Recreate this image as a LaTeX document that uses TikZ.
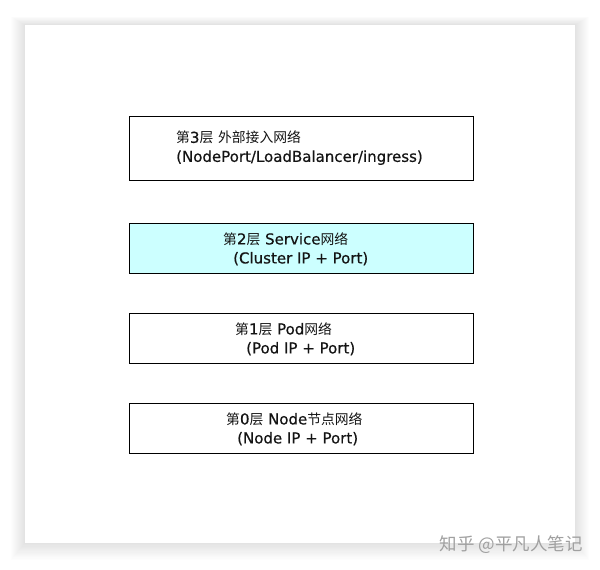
\documentclass[tikz,border=0pt]{standalone}
\usepackage{fontspec}
\setmainfont{DejaVu Sans}[FakeBold=0.5]
\newfontfamily\cjk{Noto Sans CJK SC}[Scale=0.92]
\newfontfamily\wmfont{Noto Sans CJK SC}
\definecolor{svcfill}{RGB}{204,255,255}
\definecolor{txt}{RGB}{20,20,20}
\definecolor{wm}{RGB}{160,160,160}
\begin{document}
\begin{tikzpicture}[x=1pt,y=-1pt,
  layerbox/.style={draw=black,line width=0.9pt,minimum width=344pt,inner sep=0pt},
  layertext/.style={anchor=west,align=left,text=txt,font=\fontsize{15}{19}\selectfont,inner sep=0pt}]
\useasboundingbox (0,0) rectangle (600,570);
\fill[white] (0,0) rectangle (600,570);
% soft shadow of the panel
\foreach \i in {1,...,14}{
  \fill[black,opacity=0.008] ({25-\i},{25-\i*0.6}) rectangle ({575+\i},{543+\i*1.2});
}
\fill[white] (25,25) rectangle (575,543);
% boxes
\node[layerbox,minimum height=64pt] (l3) at (301,148) {};
\node[layerbox,fill=svcfill,minimum height=50pt] (l2) at (301,248) {};
\node[layerbox,minimum height=50pt] (l1) at (301,338) {};
\node[layerbox,minimum height=50pt] (l0) at (301,428) {};
% texts
\node[layertext] (t3) at (176,148) {{\cjk 第}3{\cjk 层} {\cjk 外部接入网络}\\(NodePort/LoadBalancer/ingress)};
\node[layertext] (t2) at (223,249) {{\cjk 第}2{\cjk 层} Service{\cjk 网络}\\\hspace{10pt}(Cluster IP + Port)};
\node[layertext] (t1) at (235,339) {{\cjk 第}1{\cjk 层} Pod{\cjk 网络}\\\hspace{11pt}(Pod IP + Port)};
\node[layertext] (t0) at (226,429) {{\cjk 第}0{\cjk 层} Node{\cjk 节点网络}\\\hspace{11pt}(Node IP + Port)};
% watermark
\node[anchor=east,text=wm,font=\wmfont\fontsize{17.5}{17.5}\selectfont,inner sep=0pt] (wmk) at (583,545) {知乎 @平凡人笔记};
\end{tikzpicture}
\end{document}
